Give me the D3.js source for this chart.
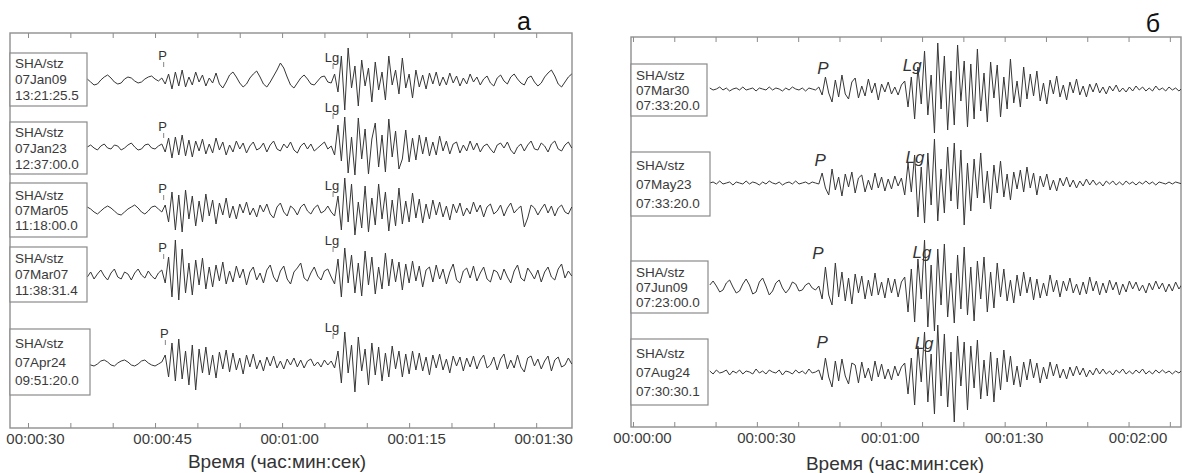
<!DOCTYPE html>
<html>
<head>
<meta charset="utf-8">
<script src="https://cdn.jsdelivr.net/npm/d3@7"></script>
<style>
    body { margin: 0; background: #fff; }
    svg { display: block; font-family: "Liberation Sans", Arial, sans-serif; }
</style>
</head>
<body>
<div id="chart"></div>
<script>
/* * * * * * * * * * * * * *
 *   seismogram panels     *
 * * * * * * * * * * * * * */

// ---- panel a: tick labels and event info ----
const tickValuesA = [30, 45, 60, 75, 90];
const tickLabelsA = ['00:00:30', '00:00:45', '00:01:00', '00:01:15', '00:01:30'];
const stationsA = ['SHA/stz', 'SHA/stz', 'SHA/stz', 'SHA/stz', 'SHA/stz'];
const datesA = ['07Jan09', '07Jan23', '07Mar05', '07Mar07', '07Apr24'];
const timesA = ['13:21:25.5', '12:37:00.0', '11:18:00.0', '11:38:31.4', '09:51:20.0'];
const pTimeA = [45.9, 45.9, 45.9, 45.9, 46.1];
const lgTimeA = [65.9, 65.9, 65.9, 65.9, 65.9];
// samples every 0.4 s starting at 37.0 s
const startA = 37.0, stepA = 0.4;

const wave07Jan09 = [
    1, -2, -5, -4, 0, 3, 5, 2, -2, -4,
    -3, 1, 3, 2, -1, -3, -2, 1, 3, 4,
    1, -1, 2,
    -4, 6, -9, 8, -6, 10, -7, 3, -5, 8,
    -2, 5, -6, 2, -3, 7, -4, -8, -2, 5,
    8, 3, -3, -7, -4, 2, 6, 9, 3, -4,
    -7, -2, 4, 10, 17, 12, 3, -5, -8, -3,
    2, 5, 1, -4, -5, -1, 3, 4, -2, -3,
    6, -12, 24, -30, 32, -8, 14, -26, 20, -6,
    12, -22, 18, -10, 8, -20, 24, -5, 10, -14,
    22, -8, 6, -18, 10, -7, 5, -9, 7, -4,
    8, -6, 3, -5, 7, -3, 4, -6, 2, -4,
    6, -2, 3, -5, 1, 4, -3, -6, 2, 5,
    -1, -4, 3, 6, 1, -3, -5, 2, 4, -2,
    -6, -3, 3, 7, 10, 4, -4, -7, -2, 3, 6
];
const wave07Jan23 = [
    0, 2, -1, -3, 1, 3, -1, -2, 2, 1,
    -3, -1, 2, 4, 0, -3, -2, 2, 3, -1,
    -2, 1, 3,
    -5, 9, -11, 10, -8, 12, -9, 7, -10, 6,
    -4, 8, -7, 3, -6, 9, -3, 5, -8, 2,
    -5, 6, -2, 4, -6, 1, 5, -3, -1, 4,
    -5, 2, 6, -2, -4, 3, -1, 5, -3, -6,
    1, 4, -2, 3, -4, -1, 2, 5, -2, 1,
    -8, 22, -14, 30, -26, 10, -28, 29, -12, 18,
    -27, 8, 24, -20, 12, -25, 28, -10, 16, -22,
    -12, 17, -15, 9, -13, 12, -7, 10, -9, 5,
    -8, 11, -4, 6, -7, 3, 5, -6, 2, -4,
    6, -3, 4, -5, 1, 3, -2, -6, 2, 4,
    -1, 5, -3, -7, 0, 3, -4, 2, 6, -2,
    -3, 4, 1, -5, 3, 6, -2, -4, 2, 5, -1
];
const wave07Mar05 = [
    3, 1, -2, -4, -1, 2, 4, 2, -1, -4,
    -5, -2, 1, 3, 5, 2, -2, -4, -1, 3,
    4, 1, -2,
    5, -12, 18, -20, 15, -22, 20, -9, 14, -16,
    9, -12, 16, -6, 10, -14, 7, -5, 12, -8,
    4, -9, 6, -3, 8, -5, 2, -7, 5, -2,
    6, -4, -8, 3, 7, -2, -6, 4, 1, -5,
    3, 6, -1, -4, 2, 5, -3, -1, 4, -2,
    -6, 14, -20, 32, -12, 26, -25, 8, -18, 24,
    -22, 12, -15, 26, -9, 18, -21, 10, -16, 22,
    -14, 9, -12, 17, -8, 11, -13, 6, -9, 10,
    -5, 8, -7, 4, -10, 6, -3, 7, -6, 2,
    -4, 8, -2, 5, -7, 3, 6, -4, -1, 5,
    -6, 2, 7, -3, 1, 4, -17, -8, 5, 2,
    -5, 1, 6, -3, 4, -6, 2, 5, -2, -4, 3
];
const wave07Mar07 = [
    -2, 3, -4, 1, 5, -1, -5, 2, 6, -2,
    -4, 3, 1, -5, 2, 6, 0, -3, 4, -1,
    -4, 2, 5,
    -8, 18, -22, 35, -25, 26, -18, 12, -20, 15,
    -10, 17, -14, 8, -12, 10, -6, 13, -9, 4,
    -7, 9, -3, 6, -10, 3, 8, -5, 2, -8,
    5, 10, -2, -7, 4, 9, -4, -9, 3, 7,
    12, -3, -6, 2, 8, -1, -5, 4, 6, -2,
    -9, 16, -22, 27, -8, 20, -18, 12, -21, 24,
    -10, 18, -19, 8, -14, 22, -11, 16, -7, 13,
    -15, 11, -8, 14, -6, 9, -12, 5, 8, -7,
    10, -4, 6, -9, 3, 11, -5, -8, 4, 7,
    -3, 9, -6, 2, 8, -4, -7, 5, 3, -5,
    6, -2, -8, 4, 10, -3, -6, 7, 2, -4,
    5, -7, 3, 8, -2, -5, 6, 11, -3, 4, -1
];
const wave07Apr24 = [
    0, -2, -3, -1, 2, 3, 1, -2, -3, 0,
    2, 3, 1, -2, -3, -1, 2, 3, 0, -2,
    -3, -1, 1,
    8, -14, 20, -18, 24, -16, 12, -22, 18, -27,
    14, -10, 16, -12, 8, -15, 11, -6, 13, -9,
    10, -7, 5, -11, 8, -4, 9, -6, 3, -8,
    6, -3, 7, -5, 2, -6, 4, -2, 5, -4,
    3, -5, 2, 4, -3, 1, -4, 3, -2, 2,
    -5, 12, -20, 31, -10, 18, -29, 26, -8, 14,
    -22, 20, -12, 16, -18, 10, -14, 17, -6, 12,
    -14, 9, -11, 12, -7, 10, -8, 6, -12, 8,
    -5, 9, -7, 4, -10, 7, -3, 6, -8, 5,
    -4, 7, -6, 3, 8, -5, -2, 6, -7, 4,
    9, -6, 3, -5, 8, -4, -9, 5, 7, -3,
    4, -6, 2, 7, -8, 3, 6, -4, -2, 5, -1
];

// ---- panel б ----
const tickValuesB = [0, 30, 60, 90, 120];
const tickLabelsB = ['00:00:00', '00:00:30', '00:01:00', '00:01:30', '00:02:00'];
const stationsB = ['SHA/stz', 'SHA/stz', 'SHA/stz', 'SHA/stz'];
const datesB = ['07Mar30', '07May23', '07Jun09', '07Aug24'];
const timesB = ['07:33:20.0', '07:33:20.0', '07:23:00.0', '07:30:30.1'];
const pTimeB = [46.0, 45.3, 44.8, 45.8];
const lgTimeB = [67.6, 68.3, 70.0, 70.5];
// samples every 0.8 s starting at 18.6 s
const startB = 18.6, stepB = 0.8;

const wave07Mar30 = [
    1, -1, 0, 2, -1, 1, -2, 0, 1, -1,
    2, -1, 0, 1, -2, 1, 0, -1, 2, -1,
    1, 0, -2, 1, -1, 2, 0, -1, 1, -2,
    1, 0, -1, 2,
    -6, 12, -4, -13, 9, -8, 14, -5, -10, 7,
    11, -9, 3, -7, 10, -4, 6, -11, 5, -3,
    7, -5, 2, -6, 4,
    8, -18, 12, -30, 22, -15, 38, -26, 14, -44,
    46, -20, 33, -41, 18, -36, 44, -12, 28, -38,
    25, -30, 40, -22, 16, -33, 27, -9, 24, -28,
    12, -20, 30, -14, 8, -18, 22, -10, 15, -7,
    18, -12, 6, -15, 9, -5, 13, -8, 4, -11,
    7, -4, 10, -6, 3, -8, 5, -3, 6, -4,
    2, -5, 3, -2, 4, -3, 1, -3, 2, -2,
    3, -1, 2, -2, 1, -2, 3, -1, 1, -2,
    2, -1, 1, -2, 1
];
const wave07May23 = [
    0, 1, -1, 2, -1, 0, 1, -2, 1, 0,
    -1, 2, -1, 1, 0, -2, 1, -1, 2, 0,
    -1, 1, -2, 0, 1, -1, 2, -1, 0, 1,
    -1, 1, 0, -1,
    10, -5, -12, 14, -7, 6, -13, 9, -4, 11,
    -10, 5, 8, -9, 3, -7, 10, -5, 6, -8,
    4, -6, 7, -3, 5,
    -12, 20, -9, 28, -34, 16, -40, 30, -22, 44,
    -38, 14, -30, 36, -18, 40, -26, 33, -42, 20,
    -28, 24, -15, 30, -20, 12, -26, 18, -10, 22,
    -14, 9, -17, 11, -6, 13, -9, 16, -5, 10,
    -12, 7, -4, 9, -7, 3, -8, 5, -3, 6,
    -4, 3, -5, 2, -3, 4, -2, 3, -2, 1,
    -3, 2, -1, 2, -2, 1, -2, 2, -1, 1,
    -2, 1, -1, 2, -1, 1, -2, 1, 0, -1,
    1, -1, 1, 0, -1
];
const wave07Jun09 = [
    2, 6, 1, -5, -3, 4, 7, 0, -6, -4,
    3, 8, 2, -7, -5, 5, 9, 1, -8, -4,
    4, 7, -1, -6, -2, 5, 3, -4, -3, 2,
    4, -1, -3, 1,
    -12, 20, -8, -18, 24, -10, 15, -14, 9, -17,
    13, -6, 11, -12, 7, -9, 14, -8, 5, -11,
    9, -6, 8, -10, 5,
    10, -25, 18, -35, 28, -12, 47, -40, 22, -44,
    38, -18, 43, -30, 14, -36, 32, -22, 40, -28,
    20, -34, 26, -12, 30, -25, 15, -21, 24, -10,
    18, -14, 7, -16, 12, -9, 15, -6, 10, -13,
    8, -11, 4, -9, 12, -5, 7, -10, 6, -4,
    9, -6, 3, -8, 5, -7, 10, -4, 6, -8,
    4, -6, 7, -3, 5, -8, 3, -5, 6, -2,
    5, -4, 2, -6, 4, -3, 6, -2, 4, -5,
    3, -4, 5, -2, 3
];
const wave07Aug24 = [
    1, -2, 2, -1, 0, 2, -3, 1, -1, 2,
    -2, 1, 0, -2, 3, -1, 1, -2, 2, 0,
    -1, 2, -3, 1, 0, -2, 2, -1, 1, -2,
    3, -1, 0, 2,
    -8, 14, -5, -15, 11, -9, 13, -4, -12, 9,
    7, -11, 10, -6, 4, -9, 11, -5, 8, -7,
    3, -8, 6, -4, 5,
    9, -22, 14, -33, 26, -10, 40, -30, 18, -42,
    47, -24, 38, -35, 20, -50, 36, -14, 30, -38,
    26, -16, 32, -27, 12, -24, 20, -30, 14, -18,
    22, -10, 16, -13, 6, -15, 10, -8, 13, -6,
    9, -11, 5, -7, 10, -4, 8, -6, 3, -7,
    5, -4, 6, -3, 4, -5, 2, -3, 4, -2,
    3, -2, 1, -3, 2, -1, 3, -2, 1, -2,
    2, -1, 3, -2, 1, -2, 2, -1, 2, -1,
    1, -2, 1, -1, 2
];

// ---- layout (pixels) ----
const layoutA = {
    id: 'a', letter: 'а', letterX: 524, letterY: 30,
    left: 10, right: 572, top: 33, bottom: 428,
    domain: [27.875, 94.23], minorStep: 5, labelDx: 7,
    baseY: [80, 147, 210, 275, 363],
    boxTop: [53, 122, 183, 247, 329], boxH: [53, 52, 54, 55, 66], boxW: [77, 77, 77, 77, 80],
    lineGap: [16, 16, 15, 16, 18.5],
    pDy: [-25, -21, -22, -28, -30], lgDy: [-23, -40, -25, -35, -36],
    italic: false, markFont: 13, titleX: 277, titleY: 468
};
const layoutB = {
    id: 'b', letter: 'б', letterX: 1153, letterY: 32,
    left: 631, right: 1181, top: 37, bottom: 427,
    domain: [-0.48, 132.7], minorStep: 10, labelDx: 9,
    baseY: [89, 183, 287, 372],
    boxTop: [64, 152, 261, 339], boxH: [52, 64, 52, 66], boxW: [76, 79, 77, 77],
    lineGap: [15, 19, 15, 19],
    pDy: [-21, -23, -34, -30], lgDy: [-24, -26, -35, -29],
    italic: true, markFont: 17, titleX: 895, titleY: 470
};

const svg = d3.select('#chart').append('svg').attr('width', 1182).attr('height', 473);

class SeismoPanel {
    constructor(svg, layout, traces, start, step) {
        this.svg = svg;
        this.layout = layout;
        this.traces = traces;
        this.start = start;
        this.step = step;
        this.initVis();
    }

    initVis() {
        let vis = this;
        let L = vis.layout;

        vis.x = d3.scaleLinear().domain(L.domain).range([L.left, L.right]);
        vis.y = d3.scaleLinear().domain([-50, 50]).range([50, -50]);

        vis.g = vis.svg.append('g').attr('class', 'panel-' + L.id);

        vis.g.append('clipPath').attr('id', 'clip-' + L.id)
            .append('rect')
            .attr('x', L.left).attr('y', L.top)
            .attr('width', L.right - L.left).attr('height', L.bottom - L.top);

        let minor = d3.range(Math.ceil(L.domain[0] / L.minorStep) * L.minorStep, L.domain[1], L.minorStep);

        // inner ticks top and bottom
        let topAxis = d3.axisTop(vis.x).tickValues(minor).tickSize(-5).tickFormat('');
        let botAxis = d3.axisBottom(vis.x).tickValues(minor).tickSize(-5).tickFormat('');
        vis.g.append('g').attr('transform', `translate(0,${L.top})`).call(topAxis);
        vis.g.append('g').attr('transform', `translate(0,${L.bottom})`).call(botAxis);

        let labelAxis = d3.axisBottom(vis.x)
            .tickValues(L.id === 'a' ? tickValuesA : tickValuesB)
            .tickSize(0).tickPadding(5)
            .tickFormat((d, i) => (L.id === 'a' ? tickLabelsA : tickLabelsB)[i]);
        let gl = vis.g.append('g').attr('transform', `translate(0,${L.bottom})`).call(labelAxis);
        gl.selectAll('text').attr('dx', L.labelDx).style('font-size', '15px').attr('fill', '#3a3a3a');

        vis.g.selectAll('.domain').remove();
        vis.g.selectAll('.tick line').attr('stroke', '#8a8a8a').attr('stroke-width', 1);

        vis.g.append('rect')
            .attr('x', L.left).attr('y', L.top)
            .attr('width', L.right - L.left).attr('height', L.bottom - L.top)
            .attr('fill', 'none').attr('stroke', '#8f8f8f').attr('stroke-width', 1.4);

        vis.g.append('text')
            .attr('x', L.titleX).attr('y', L.titleY)
            .attr('text-anchor', 'middle')
            .style('font-size', '19px').attr('fill', '#333')
            .text('Время (час:мин:сек)');

        vis.g.append('text')
            .attr('x', L.letterX).attr('y', L.letterY)
            .attr('text-anchor', 'middle')
            .style('font-size', '25px').attr('fill', '#111')
            .text(L.letter);

        vis.line = d3.line()
            .x((d, i) => vis.x(vis.start + i * vis.step))
            .y((d) => vis.y(d));

        vis.drawTraces();
    }

    drawTraces() {
        let vis = this;
        let L = vis.layout;

        vis.traces.forEach((tr, i) => {
            let base = L.baseY[i];

            vis.g.append('g').attr('clip-path', `url(#clip-${L.id})`)
                .append('path')
                .datum(tr.wave)
                .attr('transform', `translate(0,${base})`)
                .attr('d', vis.line)
                .attr('fill', 'none')
                .attr('stroke', '#363636')
                .attr('stroke-width', 1)
                .attr('stroke-linejoin', 'round');

            // label box
            vis.g.append('rect')
                .attr('x', L.left).attr('y', L.boxTop[i])
                .attr('width', L.boxW[i]).attr('height', L.boxH[i])
                .attr('fill', '#fff').attr('stroke', '#8a8a8a').attr('stroke-width', 1.2);

            let mid = L.boxTop[i] + L.boxH[i] / 2;
            [tr.station, tr.date, tr.time].forEach((s, k) => {
                vis.g.append('text')
                    .attr('x', L.left + 5)
                    .attr('y', mid + (k - 1) * L.lineGap[i])
                    .attr('dominant-baseline', 'central')
                    .style('font-size', '13.5px').attr('fill', '#3a3a3a')
                    .text(s);
            });

            // phase markers
            [['P', tr.p, L.pDy[i]], ['Lg', tr.lg, L.lgDy[i]]].forEach(([name, t, dy]) => {
                let px = vis.x(t);
                vis.g.append('text')
                    .attr('x', px).attr('y', base + dy)
                    .attr('text-anchor', 'middle')
                    .attr('dominant-baseline', 'central')
                    .style('font-size', L.markFont + 'px')
                    .style('font-style', L.italic ? 'italic' : 'normal')
                    .attr('fill', '#333')
                    .text(name);
                if (!L.italic) {
                    vis.g.append('line')
                        .attr('x1', px + 1).attr('x2', px + 1)
                        .attr('y1', base + dy + 7).attr('y2', base + dy + 12)
                        .attr('stroke', '#666').attr('stroke-width', 0.8);
                }
            });
        });
    }
}

let tracesA = [wave07Jan09, wave07Jan23, wave07Mar05, wave07Mar07, wave07Apr24].map((w, i) => ({
    wave: w, station: stationsA[i], date: datesA[i], time: timesA[i], p: pTimeA[i], lg: lgTimeA[i]
}));
let tracesB = [wave07Mar30, wave07May23, wave07Jun09, wave07Aug24].map((w, i) => ({
    wave: w, station: stationsB[i], date: datesB[i], time: timesB[i], p: pTimeB[i], lg: lgTimeB[i]
}));

new SeismoPanel(svg, layoutA, tracesA, startA, stepA);
new SeismoPanel(svg, layoutB, tracesB, startB, stepB);
</script>
</body>
</html>
